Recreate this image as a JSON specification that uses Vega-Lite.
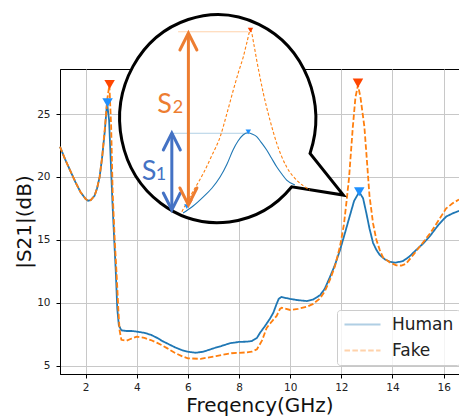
{
  "$schema": "https://vega.github.io/schema/vega-lite/v6.json",
  "autosize": {"type": "none"},
  "padding": {"left": 60, "top": 69, "right": 0, "bottom": 43},
  "width": 399,
  "height": 305,
  "background": "white",
  "datasets": {
    "main": [
      {"series":"Human","f":1.0,"v":22.4},{"series":"Human","f":1.2,"v":21.4},{"series":"Human","f":1.4,"v":20.5},{"series":"Human","f":1.6,"v":19.6},{"series":"Human","f":1.8,"v":18.8},{"series":"Human","f":2.0,"v":18.25},{"series":"Human","f":2.1,"v":18.1},{"series":"Human","f":2.2,"v":18.15},{"series":"Human","f":2.35,"v":18.5},{"series":"Human","f":2.45,"v":19.1},{"series":"Human","f":2.55,"v":20.0},{"series":"Human","f":2.65,"v":21.6},{"series":"Human","f":2.75,"v":23.6},{"series":"Human","f":2.84,"v":25.9},{"series":"Human","f":2.92,"v":24.5},{"series":"Human","f":3.0,"v":20.5},{"series":"Human","f":3.05,"v":18.0},{"series":"Human","f":3.12,"v":15.0},{"series":"Human","f":3.18,"v":12.5},{"series":"Human","f":3.24,"v":9.5},{"series":"Human","f":3.3,"v":8.2},{"series":"Human","f":3.4,"v":7.8},{"series":"Human","f":3.6,"v":7.75},{"series":"Human","f":3.8,"v":7.75},{"series":"Human","f":4.0,"v":7.7},{"series":"Human","f":4.3,"v":7.6},{"series":"Human","f":4.55,"v":7.45},{"series":"Human","f":4.8,"v":7.2},{"series":"Human","f":5.0,"v":6.95},{"series":"Human","f":5.2,"v":6.75},{"series":"Human","f":5.5,"v":6.45},{"series":"Human","f":5.8,"v":6.2},{"series":"Human","f":6.0,"v":6.1},{"series":"Human","f":6.3,"v":6.02},{"series":"Human","f":6.6,"v":6.1},{"series":"Human","f":7.0,"v":6.37},{"series":"Human","f":7.3,"v":6.55},{"series":"Human","f":7.65,"v":6.78},{"series":"Human","f":8.0,"v":6.88},{"series":"Human","f":8.3,"v":6.9},{"series":"Human","f":8.5,"v":6.95},{"series":"Human","f":8.7,"v":7.2},{"series":"Human","f":8.82,"v":7.6},{"series":"Human","f":9.0,"v":8.1},{"series":"Human","f":9.2,"v":8.7},{"series":"Human","f":9.34,"v":9.2},{"series":"Human","f":9.45,"v":9.8},{"series":"Human","f":9.55,"v":10.3},{"series":"Human","f":9.65,"v":10.45},{"series":"Human","f":10.0,"v":10.3},{"series":"Human","f":10.3,"v":10.2},{"series":"Human","f":10.65,"v":10.13},{"series":"Human","f":10.9,"v":10.25},{"series":"Human","f":11.17,"v":10.6},{"series":"Human","f":11.35,"v":11.1},{"series":"Human","f":11.56,"v":12.07},{"series":"Human","f":11.75,"v":13.0},{"series":"Human","f":11.95,"v":14.2},{"series":"Human","f":12.15,"v":15.6},{"series":"Human","f":12.33,"v":16.9},{"series":"Human","f":12.5,"v":18.1},{"series":"Human","f":12.7,"v":18.8},{"series":"Human","f":12.85,"v":18.3},{"series":"Human","f":12.98,"v":17.1},{"series":"Human","f":13.1,"v":15.9},{"series":"Human","f":13.24,"v":14.75},{"series":"Human","f":13.37,"v":14.2},{"series":"Human","f":13.5,"v":13.8},{"series":"Human","f":13.7,"v":13.45},{"series":"Human","f":13.9,"v":13.25},{"series":"Human","f":14.1,"v":13.18},{"series":"Human","f":14.4,"v":13.3},{"series":"Human","f":14.65,"v":13.65},{"series":"Human","f":14.93,"v":14.2},{"series":"Human","f":15.2,"v":14.7},{"series":"Human","f":15.45,"v":15.26},{"series":"Human","f":15.8,"v":16.2},{"series":"Human","f":16.1,"v":16.85},{"series":"Human","f":16.35,"v":17.1},{"series":"Human","f":16.6,"v":17.3},
      {"series":"Fake","f":1.0,"v":22.4},{"series":"Fake","f":1.2,"v":21.4},{"series":"Fake","f":1.4,"v":20.5},{"series":"Fake","f":1.6,"v":19.6},{"series":"Fake","f":1.8,"v":18.8},{"series":"Fake","f":2.0,"v":18.25},{"series":"Fake","f":2.1,"v":18.1},{"series":"Fake","f":2.2,"v":18.15},{"series":"Fake","f":2.35,"v":18.5},{"series":"Fake","f":2.45,"v":19.1},{"series":"Fake","f":2.55,"v":20.0},{"series":"Fake","f":2.65,"v":21.6},{"series":"Fake","f":2.75,"v":23.8},{"series":"Fake","f":2.85,"v":26.2},{"series":"Fake","f":2.93,"v":27.3},{"series":"Fake","f":3.0,"v":24.0},{"series":"Fake","f":3.06,"v":18.7},{"series":"Fake","f":3.14,"v":15.0},{"series":"Fake","f":3.22,"v":12.0},{"series":"Fake","f":3.28,"v":9.5},{"series":"Fake","f":3.33,"v":7.8},{"series":"Fake","f":3.4,"v":7.05},{"series":"Fake","f":3.6,"v":6.98},{"series":"Fake","f":3.8,"v":7.15},{"series":"Fake","f":4.0,"v":7.3},{"series":"Fake","f":4.3,"v":7.2},{"series":"Fake","f":4.55,"v":7.03},{"series":"Fake","f":4.8,"v":6.8},{"series":"Fake","f":5.0,"v":6.6},{"series":"Fake","f":5.2,"v":6.37},{"series":"Fake","f":5.5,"v":6.0},{"series":"Fake","f":5.8,"v":5.72},{"series":"Fake","f":6.0,"v":5.58},{"series":"Fake","f":6.5,"v":5.53},{"series":"Fake","f":7.1,"v":5.76},{"series":"Fake","f":7.7,"v":5.98},{"series":"Fake","f":8.3,"v":6.05},{"series":"Fake","f":8.5,"v":6.1},{"series":"Fake","f":8.7,"v":6.3},{"series":"Fake","f":8.9,"v":7.0},{"series":"Fake","f":9.08,"v":8.0},{"series":"Fake","f":9.28,"v":8.5},{"series":"Fake","f":9.47,"v":8.95},{"series":"Fake","f":9.6,"v":9.5},{"series":"Fake","f":9.67,"v":9.6},{"series":"Fake","f":10.0,"v":9.42},{"series":"Fake","f":10.3,"v":9.5},{"series":"Fake","f":10.65,"v":9.68},{"series":"Fake","f":10.9,"v":9.9},{"series":"Fake","f":11.17,"v":10.35},{"series":"Fake","f":11.35,"v":10.9},{"series":"Fake","f":11.56,"v":11.85},{"series":"Fake","f":11.75,"v":12.9},{"series":"Fake","f":11.95,"v":14.5},{"series":"Fake","f":12.1,"v":16.2},{"series":"Fake","f":12.2,"v":18.0},{"series":"Fake","f":12.3,"v":19.9},{"series":"Fake","f":12.45,"v":24.0},{"series":"Fake","f":12.55,"v":26.3},{"series":"Fake","f":12.65,"v":27.3},{"series":"Fake","f":12.75,"v":26.3},{"series":"Fake","f":12.9,"v":24.0},{"series":"Fake","f":13.0,"v":21.3},{"series":"Fake","f":13.1,"v":18.5},{"series":"Fake","f":13.24,"v":16.3},{"series":"Fake","f":13.37,"v":15.0},{"series":"Fake","f":13.5,"v":14.2},{"series":"Fake","f":13.63,"v":13.6},{"series":"Fake","f":13.9,"v":13.2},{"series":"Fake","f":14.15,"v":12.97},{"series":"Fake","f":14.35,"v":12.95},{"series":"Fake","f":14.53,"v":13.1},{"series":"Fake","f":14.85,"v":13.9},{"series":"Fake","f":15.2,"v":14.8},{"series":"Fake","f":15.5,"v":15.6},{"series":"Fake","f":15.85,"v":16.7},{"series":"Fake","f":16.1,"v":17.5},{"series":"Fake","f":16.35,"v":17.9},{"series":"Fake","f":16.6,"v":18.2}
    ],
    "peaks": [
      {"series":"Human","f":2.86,"v":25.9},{"series":"Fake","f":2.94,"v":27.35},
      {"series":"Human","f":12.7,"v":18.82},{"series":"Fake","f":12.65,"v":27.46}
    ],
    "bubble": [{"f":7.199,"v":24.6}],
    "inset": [
      {"series":"Human","f":5.813,"v":17.13},{"series":"Human","f":6.204,"v":17.69},{"series":"Human","f":6.594,"v":18.4},{"series":"Human","f":6.945,"v":19.12},{"series":"Human","f":7.258,"v":19.99},{"series":"Human","f":7.531,"v":21.03},{"series":"Human","f":7.765,"v":22.14},{"series":"Human","f":7.961,"v":22.85},{"series":"Human","f":8.155,"v":23.33},{"series":"Human","f":8.35,"v":23.51},{"series":"Human","f":8.507,"v":23.41},{"series":"Human","f":8.69,"v":23.2},{"series":"Human","f":8.858,"v":22.77},{"series":"Human","f":9.081,"v":22.14},{"series":"Human","f":9.268,"v":21.5},{"series":"Human","f":9.471,"v":20.81},{"series":"Human","f":9.658,"v":20.27},{"series":"Human","f":9.861,"v":19.75},{"series":"Human","f":10.185,"v":19.36},
      {"series":"Fake","f":5.763,"v":17.23},{"series":"Fake","f":6.165,"v":18.72},{"series":"Fake","f":6.606,"v":20.29},{"series":"Fake","f":6.945,"v":21.74},{"series":"Fake","f":7.258,"v":23.17},{"series":"Fake","f":7.531,"v":25.08},{"series":"Fake","f":7.777,"v":26.91},{"series":"Fake","f":7.98,"v":28.34},{"series":"Fake","f":8.167,"v":29.55},{"series":"Fake","f":8.311,"v":30.72},{"series":"Fake","f":8.448,"v":31.68},{"series":"Fake","f":8.585,"v":30.48},{"series":"Fake","f":8.69,"v":29.29},{"series":"Fake","f":8.819,"v":27.94},{"series":"Fake","f":8.948,"v":26.67},{"series":"Fake","f":9.209,"v":24.52},{"series":"Fake","f":9.471,"v":22.69},{"series":"Fake","f":9.861,"v":20.79},{"series":"Fake","f":10.251,"v":19.75},{"series":"Fake","f":10.77,"v":18.96}
    ],
    "insetPeaks": [
      {"series":"Human","f":8.362,"v":23.59},{"series":"Fake","f":8.448,"v":31.68},
      {"series":"Human","f":5.958,"v":17.63},{"series":"Fake","f":6.087,"v":18.0}
    ],
    "guides": [
      {"series":"Human","f":5.423,"f2":8.35,"v":23.47},
      {"series":"Fake","f":5.618,"f2":8.35,"v":31.54}
    ],
    "arrows": [
      {"series":"Human","f":5.372,"v":17.37,"v2":23.49},
      {"series":"Fake","f":6.02,"v":17.77,"v2":31.44}
    ],
    "heads": [
      {"series":"Human","dir":"up","f":5.372,"v":23.49},{"series":"Human","dir":"down","f":5.372,"v":17.37},
      {"series":"Fake","dir":"up","f":6.02,"v":31.44},{"series":"Fake","dir":"down","f":6.02,"v":17.77}
    ],
    "labels": [
      {"series":"Fake","kind":"main","t":"S","f":4.799,"v":25.08},
      {"series":"Fake","kind":"sub","t":"2","f":5.404,"v":25.08},
      {"series":"Human","kind":"main","t":"S","f":4.201,"v":19.75},
      {"series":"Human","kind":"sub","t":"1","f":4.74,"v":19.75}
    ]
  },
  "resolve": {"scale": {"fill": "independent", "stroke": "independent", "size": "independent"}},
  "layer": [
    {
      "data": {"name": "main"},
      "mark": {"type": "line", "strokeWidth": 1.8},
      "encoding": {
        "x": {"field": "f", "type": "quantitative", "scale": {"domain": [1, 16.6], "nice": false, "zero": false},
              "axis": {"values": [2,4,6,8,10,12,14,16], "title": "Freqency(GHz)", "labelPadding": 4, "titlePadding": 3, "format": "d"}},
        "y": {"field": "v", "type": "quantitative", "scale": {"domain": [4.33, 28.58], "nice": false, "zero": false},
              "axis": {"values": [5,10,15,20,25], "title": "|S21|(dB)", "labelPadding": 6, "titlePadding": 2, "format": "d"}},
        "color": {"field": "series", "type": "nominal", "sort": ["Human","Fake"],
                  "scale": {"domain": ["Human","Fake"], "range": ["#1f77b4","#ff7f0e"]},
                  "legend": {"orient": "none", "legendX": 277, "legendY": 241, "title": null, "symbolType": "M -3 0 H 3", "symbolSize": 144, "symbolOffset": 11, "labelOffset": 21, "symbolOpacity": 1}},
        "strokeDash": {"field": "series", "type": "nominal", "sort": ["Human","Fake"],
                  "scale": {"domain": ["Human","Fake"], "range": [[1,0],[5.5,2.4]]},
                  "legend": {"orient": "none", "legendX": 277, "legendY": 241, "title": null, "symbolType": "M -3 0 H 3", "symbolSize": 144, "symbolOffset": 11, "labelOffset": 21, "symbolOpacity": 1}}
      }
    },
    {
      "data": {"name": "peaks"},
      "mark": {"type": "point", "shape": "triangle-down", "filled": true, "size": 110, "opacity": 1, "strokeWidth": 0},
      "encoding": {
        "x": {"field": "f", "type": "quantitative"},
        "y": {"field": "v", "type": "quantitative"},
        "fill": {"field": "series", "type": "nominal", "scale": {"domain": ["Human","Fake"], "range": ["#1E90FF","#FF4500"]}, "legend": null}
      }
    },
    {
      "data": {"name": "bubble"},
      "mark": {"type": "point", "shape": "M 0.880 0.330 A 0.9423 1 0 1 0 0.704 0.651 L 1.200 0.731 Z", "size": 43264, "filled": true, "fill": "white", "stroke": "black", "strokeWidth": 3, "opacity": 1, "strokeJoin": "miter"},
      "encoding": {
        "x": {"field": "f", "type": "quantitative"},
        "y": {"field": "v", "type": "quantitative"}
      }
    },
    {
      "data": {"name": "guides"},
      "mark": {"type": "rule", "strokeWidth": 1, "opacity": 0.35},
      "encoding": {
        "x": {"field": "f", "type": "quantitative"},
        "x2": {"field": "f2"},
        "y": {"field": "v", "type": "quantitative"},
        "color": {"field": "series", "type": "nominal"}
      }
    },
    {
      "data": {"name": "inset"},
      "transform": [{"filter": "datum.series === 'Human'"}],
      "mark": {"type": "line", "strokeWidth": 1.1, "interpolate": "monotone"},
      "encoding": {
        "x": {"field": "f", "type": "quantitative"},
        "y": {"field": "v", "type": "quantitative"},
        "color": {"field": "series", "type": "nominal"}
      }
    },
    {
      "data": {"name": "inset"},
      "transform": [{"filter": "datum.series === 'Fake'"}],
      "mark": {"type": "line", "strokeWidth": 1.1, "interpolate": "monotone", "strokeDash": [3, 2]},
      "encoding": {
        "x": {"field": "f", "type": "quantitative"},
        "y": {"field": "v", "type": "quantitative"},
        "color": {"field": "series", "type": "nominal"}
      }
    },
    {
      "data": {"name": "insetPeaks"},
      "mark": {"type": "point", "shape": "triangle-down", "filled": true, "size": 30, "opacity": 1, "strokeWidth": 0},
      "encoding": {
        "x": {"field": "f", "type": "quantitative"},
        "y": {"field": "v", "type": "quantitative"},
        "fill": {"field": "series", "type": "nominal", "scale": {"domain": ["Human","Fake"], "range": ["#1E90FF","#FF4500"]}, "legend": null}
      }
    },
    {
      "data": {"name": "arrows"},
      "mark": {"type": "rule", "strokeWidth": 3},
      "encoding": {
        "x": {"field": "f", "type": "quantitative"},
        "y": {"field": "v", "type": "quantitative"},
        "y2": {"field": "v2"},
        "stroke": {"field": "series", "type": "nominal", "scale": {"domain": ["Human","Fake"], "range": ["#4472C4","#ED7D31"]}, "legend": null}
      }
    },
    {
      "data": {"name": "heads"},
      "mark": {"type": "point", "filled": false, "size": 1156, "strokeWidth": 3, "opacity": 1, "strokeCap": "round"},
      "encoding": {
        "x": {"field": "f", "type": "quantitative"},
        "y": {"field": "v", "type": "quantitative"},
        "shape": {"field": "dir", "type": "nominal", "scale": {"domain": ["up","down"], "range": ["M -0.5 1 L 0 0 L 0.5 1", "M -0.5 -1 L 0 0 L 0.5 -1"]}, "legend": null},
        "stroke": {"field": "series", "type": "nominal", "scale": {"domain": ["Human","Fake"], "range": ["#4472C4","#ED7D31"]}, "legend": null}
      }
    },
    {
      "data": {"name": "labels"},
      "mark": {"type": "text", "align": "left", "baseline": "alphabetic", "font": "Lato"},
      "encoding": {
        "x": {"field": "f", "type": "quantitative"},
        "y": {"field": "v", "type": "quantitative"},
        "text": {"field": "t"},
        "size": {"field": "kind", "type": "nominal", "scale": {"domain": ["main","sub"], "range": [27, 18]}, "legend": null},
        "fill": {"field": "series", "type": "nominal", "scale": {"domain": ["Human","Fake"], "range": ["#4472C4","#ED7D31"]}, "legend": null}
      }
    }
  ],
  "config": {
    "view": {"stroke": "black", "strokeWidth": 1},
    "axis": {"grid": true, "gridColor": "#c8c8c8", "gridWidth": 1, "domainColor": "black", "domainWidth": 1,
             "tickColor": "black", "tickSize": 4, "labelFont": "DejaVu Sans", "labelFontSize": 10.5, "labelColor": "#222",
             "titleFont": "DejaVu Sans", "titleFontSize": 20, "titleFontWeight": "normal", "titleColor": "#111"},
    "legend": {"labelFont": "DejaVu Sans", "labelFontSize": 17, "labelColor": "#222",
               "symbolStrokeWidth": 2, "padding": 6, "rowPadding": 8,
               "fillColor": "rgba(255,255,255,0.8)", "strokeColor": "#cccccc", "cornerRadius": 3}
  }
}
